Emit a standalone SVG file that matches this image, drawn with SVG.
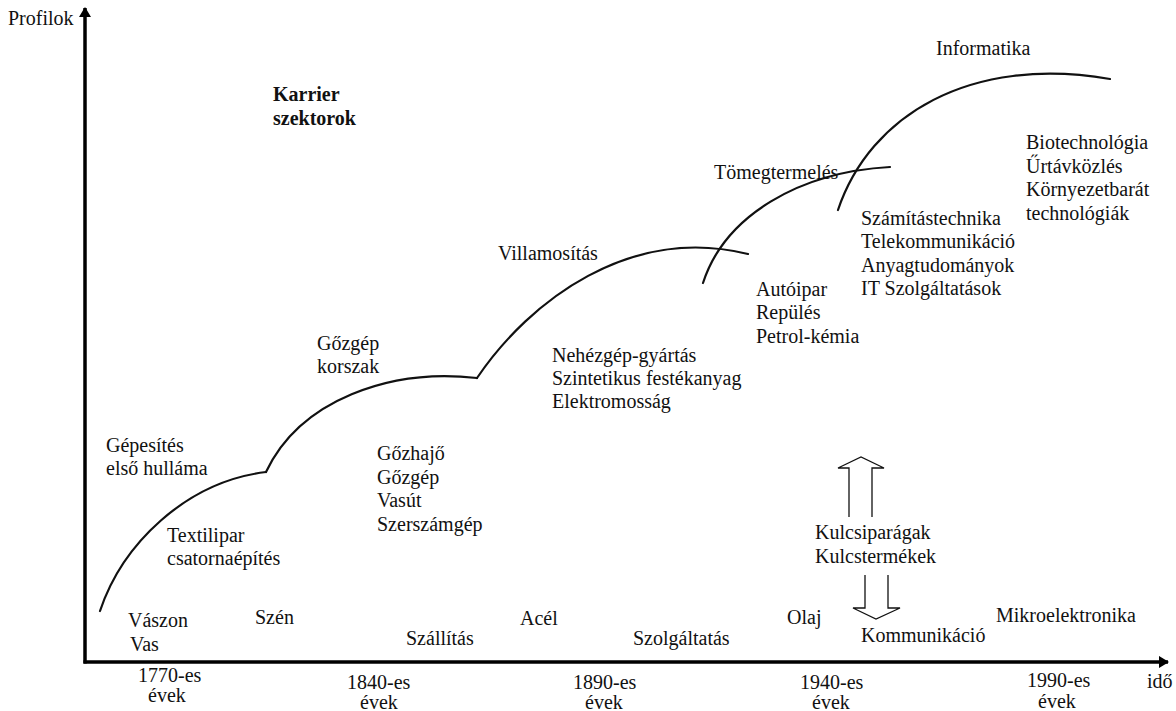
<svg xmlns="http://www.w3.org/2000/svg" width="1176" height="711" viewBox="0 0 1176 711">
  <style>
    text { font-family: "Liberation Serif", "Times New Roman", serif; font-size: 20px; fill: #111; }
    .bold { font-weight: bold; }
    .axis { stroke: #000; stroke-width: 3.5; fill: none; }
    .wave { stroke: #111; stroke-width: 2.2; fill: none; stroke-linecap: round; stroke-linejoin: round; }
    .hollow { stroke: #111; stroke-width: 1.3; fill: none; stroke-linejoin: miter; }
  </style>
  <defs>
    <marker id="axis-head" viewBox="0 0 10 12" refX="9" refY="6" markerWidth="3" markerHeight="3.6" orient="auto" markerUnits="strokeWidth">
      <path d="M0,0 L10,6 L0,12 Z" fill="#000"/>
    </marker>
  </defs>

  <rect width="1176" height="711" fill="#fff"/>

  <!-- axes -->
  <g id="axes">
    <line class="axis" x1="85" y1="663.5" x2="85" y2="8" marker-end="url(#axis-head)"/>
    <line class="axis" x1="83.5" y1="662" x2="1168" y2="662" marker-end="url(#axis-head)"/>
    <text x="8" y="25">Profilok</text>
    <text x="1147" y="688">idő</text>
  </g>

  <!-- technology waves -->
  <g id="connectors">
    <path class="wave" d="M100,611 C122,545 185,482 266,472"/>
    <path class="wave" d="M266,472 C300,400 390,368 477,378"/>
    <path class="wave" d="M477,378 C530,300 630,225 748,254"/>
    <path class="wave" d="M703,283 C725,215 800,172 890,167"/>
    <path class="wave" d="M838,210 C870,115 970,55 1110,79"/>
    <!-- hollow arrows -->
    <path class="hollow" d="M849,517 L849,468 L838,468 L861,457 L884,468 L872,468 L872,517"/>
    <path class="hollow" d="M865,575 L865,608 L853,608 L876,619 L900,608 L888,608 L888,575"/>
  </g>

  <g id="title">
    <text class="bold" x="273" y="101">Karrier</text>
    <text class="bold" x="273" y="125">szektorok</text>
  </g>

  <!-- wave labels -->
  <g id="wave1">
    <text x="106" y="452">Gépesítés</text>
    <text x="106" y="475">első hulláma</text>
    <text x="167" y="542">Textilipar</text>
    <text x="167" y="565">csatornaépítés</text>
  </g>
  <g id="wave2">
    <text x="317" y="350">Gőzgép</text>
    <text x="317" y="373">korszak</text>
    <text x="377" y="460">Gőzhajő</text>
    <text x="377" y="484">Gőzgép</text>
    <text x="377" y="507">Vasút</text>
    <text x="377" y="531">Szerszámgép</text>
  </g>
  <g id="wave3">
    <text x="498" y="260">Villamosítás</text>
    <text x="552" y="362">Nehézgép-gyártás</text>
    <text x="552" y="385">Szintetikus festékanyag</text>
    <text x="552" y="408">Elektromosság</text>
  </g>
  <g id="wave4">
    <text x="714" y="179">Tömegtermelés</text>
    <text x="756" y="296">Autóipar</text>
    <text x="756" y="319">Repülés</text>
    <text x="756" y="343">Petrol-kémia</text>
  </g>
  <g id="wave5">
    <text x="936" y="55">Informatika</text>
    <text x="861" y="225">Számítástechnika</text>
    <text x="861" y="248">Telekommunikáció</text>
    <text x="861" y="271.5">Anyagtudományok</text>
    <text x="861" y="295">IT Szolgáltatások</text>
    <text x="1026" y="149">Biotechnológia</text>
    <text x="1026" y="172.5">Űrtávközlés</text>
    <text x="1026" y="196">Környezetbarát</text>
    <text x="1026" y="219.5">technológiák</text>
  </g>
  <g id="key-sectors">
    <text x="815" y="539">Kulcsiparágak</text>
    <text x="815" y="563">Kulcstermékek</text>
  </g>

  <!-- carrier sectors along the time axis -->
  <g id="carriers">
    <text x="128" y="627">Vászon</text>
    <text x="130" y="651">Vas</text>
    <text x="255" y="624">Szén</text>
    <text x="406" y="645">Szállítás</text>
    <text x="520" y="625">Acél</text>
    <text x="633" y="645">Szolgáltatás</text>
    <text x="787" y="624">Olaj</text>
    <text x="861" y="642">Kommunikáció</text>
    <text x="996" y="622">Mikroelektronika</text>
  </g>

  <!-- decades -->
  <g id="decades">
    <text x="138" y="682">1770-es</text>
    <text x="148" y="702">évek</text>
    <text x="347" y="689">1840-es</text>
    <text x="360" y="709">évek</text>
    <text x="573" y="689">1890-es</text>
    <text x="585" y="709">évek</text>
    <text x="800" y="689">1940-es</text>
    <text x="812" y="709">évek</text>
    <text x="1027" y="687">1990-es</text>
    <text x="1038" y="708">évek</text>
  </g>
</svg>
